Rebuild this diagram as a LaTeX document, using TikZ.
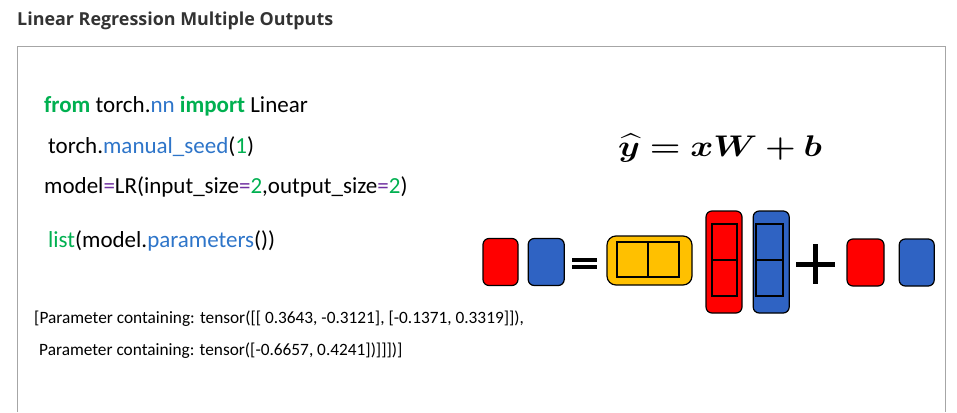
\documentclass[tikz,border=0pt]{standalone}
\usepackage{amsmath}
\usepackage{bm}
\usepackage{fontspec}
\setmainfont{Carlito}
\newfontfamily\titlefont{Open Sans}
\usetikzlibrary{positioning}

\definecolor{kwgreen}{HTML}{00B050}
\definecolor{fnblue}{HTML}{2E75C9}
\definecolor{oppurple}{HTML}{7030A0}
\definecolor{cellred}{HTML}{FF0000}
\definecolor{cellblue}{HTML}{2F63C3}
\definecolor{cellyellow}{HTML}{FFC000}
\definecolor{framegray}{HTML}{A6A6A6}

\newcommand{\kw}[1]{\textcolor{kwgreen}{#1}}
\newcommand{\fn}[1]{\textcolor{fnblue}{#1}}
\newcommand{\op}[1]{\textcolor{oppurple}{#1}}

\begin{document}
\begin{tikzpicture}[
            x=1pt, y=-1pt,
            code/.style={anchor=base west, inner sep=0pt, font=\fontsize{23}{27}\selectfont},
            output/.style={anchor=base west, inner sep=0pt, font=\fontsize{17.3}{21}\selectfont},
            cell/.style={draw, line width=1.2pt, rounded corners=6pt, minimum width=36pt, minimum height=47pt, inner sep=0pt},
            column/.style={cell, minimum height=102pt},
            inbox/.style={draw, line width=2pt, inner sep=0pt, minimum width=25pt, minimum height=72pt},
            bar/.style={fill=black, inner sep=0pt}
        ]

            \useasboundingbox (0,0) rectangle (957,412);

            % title and frame
            \node[anchor=base west, inner sep=0pt, text=black!80, font=\titlefont\bfseries\fontsize{17.9}{21}\selectfont]
                (title) at (17,26) {Linear Regression Multiple Outputs};
            \draw[framegray, line width=1pt] (17,412) |- (945,47) -- (945,412);

            % code
            \node[code] (line1) at (44,112) {\kw{\textbf{from}} torch.\fn{nn} \kw{\textbf{import}} Linear};
            \node[code] (line2) at (48,153) {torch.\fn{manual\_seed}(\kw{1})};
            \node[code] (line3) at (44,193) {model\op{=}LR(input\_size\op{=}\kw{2},output\_size\op{=}\kw{2})};
            \node[code] (line4) at (48,247) {\kw{list}(model.\fn{parameters}())};

            \node[output] (out1) at (34,323) {[Parameter containing: tensor([[ 0.3643, -0.3121], [-0.1371, 0.3319]]),};
            \node[output] (out2) at (39,355) {Parameter containing: tensor([-0.6657, 0.4241])]]])]};

            % equation
            \node[anchor=base, inner sep=0pt, font=\Huge] (eqn) at (720,156)
                {\scalebox{1.41}[1.2]{$\bm{\widehat{y}} \mathrel{\bm{=}} \bm{xW} \mathbin{\bm{+}} \bm{b}$}};

            % y = x W + b
            \node[cell, fill=cellred, minimum width=35pt] (yr) at (500.5,262) {};
            \node[cell, fill=cellblue, right=9pt of yr] (yb) {};

            \node[bar, minimum width=25pt, minimum height=4pt] (eqtop) at (584.5,260) {};
            \node[bar, minimum width=25pt, minimum height=4pt, below=3pt of eqtop] (eqbot) {};

            \node[cell, fill=cellyellow, rounded corners=9pt, minimum width=85pt, minimum height=49pt] (xbox) at (649.5,260.5) {};
            \node[inbox, minimum width=62pt, minimum height=35pt] (xin) at (648,259.5) {};
            \draw[line width=2pt] (xin.north) -- (xin.south);

            \node[column, fill=cellred] (wr) at (724,262) {};
            \node[inbox] (wrin) at (724.5,260) {};
            \draw[line width=2pt] (wrin.west) -- (wrin.east);

            \node[column, fill=cellblue, right=10pt of wr] (wb) {};
            \node[inbox, minimum width=27pt] (wbin) at (769.5,260) {};
            \draw[line width=2pt] (wbin.west) -- (wbin.east);

            \node[bar, minimum width=5pt, minimum height=40pt] (plusv) at (815.5,264) {};
            \node[bar, minimum width=39pt, minimum height=5pt] (plush) at (815.5,264.5) {};

            \node[cell, fill=cellred, minimum width=37pt] (br) at (865.5,262.5) {};
            \node[cell, fill=cellblue, minimum width=35pt, right=14pt of br] (bb) {};

        \end{tikzpicture}
\end{document}
